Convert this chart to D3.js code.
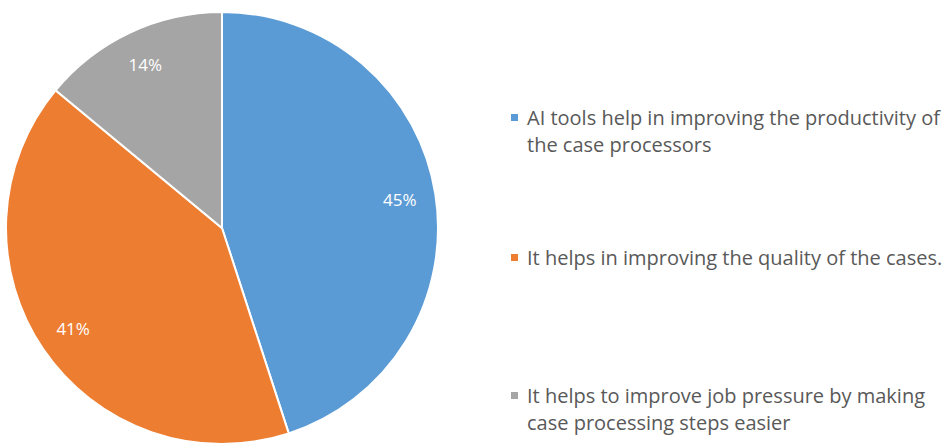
<!DOCTYPE html>
<html>
<head>
<meta charset="utf-8">
<script src="https://cdn.jsdelivr.net/npm/d3@7"></script>
<style>
  body { margin: 0; background: #fff; }
  text { font-family: "Open Sans", "Noto Sans", sans-serif; }
</style>
</head>
<body>
<div id="viz"></div>
<script>
const categories = [
  "AI tools help in improving the productivity of the case processors",
  "It helps in improving the quality of the cases.",
  "It helps to improve job pressure by making case processing steps easier"
];
const values = [45, 41, 14];
const legendLines = [
  ["AI tools help in improving the productivity of", "the case processors"],
  ["It helps in improving the quality of the cases."],
  ["It helps to improve job pressure by making", "case processing steps easier"]
];
const colors = ["#5b9bd5", "#ed7d31", "#a5a5a5"];

const width = 950;
const height = 448;

const svg = d3.select("#viz")
  .append("svg")
  .attr("width", width)
  .attr("height", height);

const radius = 216;
const g = svg.append("g").attr("transform", "translate(222,228)");

const pie = d3.pie().sort(null).value(d => d);
const arc = d3.arc().innerRadius(0).outerRadius(radius);
const labelArc = d3.arc().innerRadius(180).outerRadius(180);

const slices = pie(values);

g.selectAll("path")
  .data(slices)
  .enter()
  .append("path")
  .attr("d", arc)
  .attr("fill", (d, i) => colors[i])
  .attr("stroke", "#fff")
  .attr("stroke-width", 2);

g.selectAll("text.lbl")
  .data(slices)
  .enter()
  .append("text")
  .attr("class", "lbl")
  .attr("transform", d => "translate(" + labelArc.centroid(d) + ")")
  .attr("text-anchor", "middle")
  .attr("dy", "0.35em")
  .attr("fill", "#fff")
  .style("font-size", "17px")
  .text(d => d.data + "%");

// legend
const legendTop = [125, 265, 403];
const legend = svg.append("g");
legendLines.forEach((lines, i) => {
  legend.append("rect")
    .attr("x", 511)
    .attr("y", legendTop[i] - 11)
    .attr("width", 7)
    .attr("height", 7)
    .attr("fill", colors[i]);
  lines.forEach((line, j) => {
    legend.append("text")
      .attr("x", 527)
      .attr("y", legendTop[i] + j * 27)
      .attr("fill", "#595959")
      .style("font-size", "20px")
      .text(line);
  });
});
</script>
</body>
</html>
